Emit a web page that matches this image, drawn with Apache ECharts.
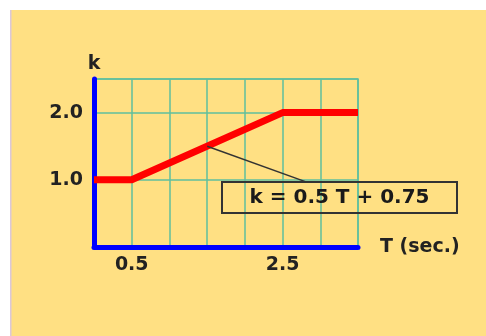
<!DOCTYPE html>
<html><head><meta charset="utf-8">
<script src="https://cdn.jsdelivr.net/npm/echarts@6/dist/echarts.min.js"></script>
<style>html,body{margin:0;padding:0;background:#fff}#c{width:486px;height:336px}</style>
</head><body><div id="c"></div>
<script>
var periodT = [0, 0.5, 2.5, 3.5];
var factorK = [1.0, 1.0, 2.0, 2.0];
var xTickLabels = ['0.5', '2.5'];
var yTickLabels = ['1.0', '2.0'];
var formulaText = 'k = 0.5 T + 0.75';
var leaderFrom = [1.5, 1.5];
var leaderTo = [2.82, 0.965];

var font = 'DejaVu Sans';
var chart = echarts.init(document.getElementById('c'), null, {renderer: 'canvas'});
chart.setOption({
  backgroundColor: '#ffffff',
  animation: false,
  graphic: [
    {type: 'rect', z: -10, shape: {x: 10, y: 10, width: 476, height: 326}, style: {fill: '#FFE083'}},
    {type: 'rect', z: -9, shape: {x: 10, y: 10, width: 1.5, height: 326}, style: {fill: '#DCC8D8'}},
    {type: 'rect', z: 10, shape: {x: 222, y: 182, width: 235, height: 31},
     style: {fill: 'transparent', stroke: '#333333', lineWidth: 2}},
    {type: 'text', z: 11, x: 339.5, y: 197.5,
     style: {text: formulaText, font: 'bold 20px "DejaVu Sans"', fill: '#1a1a1a', align: 'center', verticalAlign: 'middle'}}
  ],
  grid: {left: 94, right: 128, top: 79, bottom: 89, show: true, borderColor: '#5FBF9E', borderWidth: 1.5, backgroundColor: 'transparent'},
  xAxis: {
    type: 'value', min: 0, max: 3.5, interval: 0.5,
    name: 'T (sec.)', nameLocation: 'end', nameGap: 22,
    nameTextStyle: {fontFamily: font, fontWeight: 'bold', fontSize: 19, color: '#222', verticalAlign: 'middle', padding: [5, 0, 0, 0]},
    axisLine: {show: true, lineStyle: {color: '#0000FF', width: 5}},
    axisTick: {show: false},
    axisLabel: {margin: 9, fontFamily: font, fontWeight: 'bold', fontSize: 19, color: '#222',
      formatter: function (v) { var s = v.toFixed(1); return xTickLabels.indexOf(s) >= 0 ? s : ''; }},
    splitLine: {show: true, lineStyle: {color: '#5FBF9E', width: 1.5}}
  },
  yAxis: {
    type: 'value', min: 0, max: 2.5, interval: 1,
    name: 'k', nameLocation: 'end', nameGap: 5,
    nameTextStyle: {fontFamily: font, fontWeight: 'bold', fontSize: 19, color: '#222', align: 'center'},
    axisLine: {show: true, lineStyle: {color: '#0000FF', width: 5}},
    axisTick: {show: false},
    axisLabel: {margin: 11, fontFamily: font, fontWeight: 'bold', fontSize: 19, color: '#222',
      formatter: function (v) { var s = v.toFixed(1); return yTickLabels.indexOf(s) >= 0 ? s : ''; }},
    splitLine: {show: true, lineStyle: {color: '#5FBF9E', width: 1.5}}
  },
  series: [
    {type: 'line', data: periodT.map(function (t, i) { return [t, factorK[i]]; }),
     symbol: 'none', lineStyle: {color: '#FF0000', width: 7, join: 'round'}, z: 3},
    {type: 'line', data: [leaderFrom, leaderTo], symbol: 'none',
     lineStyle: {color: '#333333', width: 1.5}, z: 4}
  ]
});
</script></body></html>
